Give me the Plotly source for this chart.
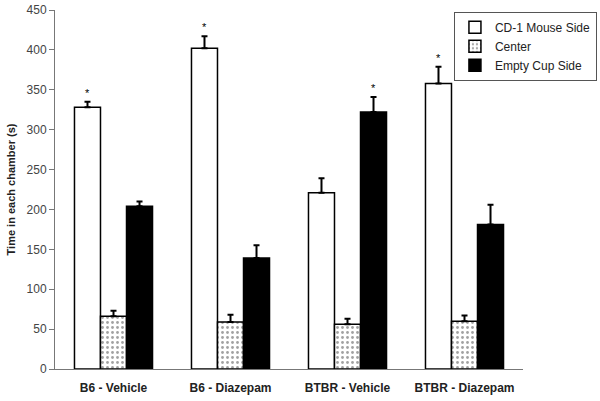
import plotly.graph_objects as go

categories = ["B6 - Vehicle", "B6 - Diazepam", "BTBR - Vehicle", "BTBR - Diazepam"]
series_names = ["CD-1 Mouse Side", "Center", "Empty Cup Side"]
cd1_side = [328, 402, 221, 358]
cd1_err = [7, 15, 18, 21]
center = [66, 59, 56, 60]
center_err = [7, 9, 7, 7]
empty_side = [204, 139, 322, 181]
empty_err = [6, 16, 19, 25]
# significance markers: (series index, category index)
stars = [(0, 0), (0, 1), (2, 2), (0, 3)]

values = [cd1_side, center, empty_side]
errors = [cd1_err, center_err, empty_err]

fig = go.Figure()
styles = [
    dict(color="white", pattern=None),
    dict(color="white", pattern=dict(shape=".", fgcolor="#444", bgcolor="white", size=5, solidity=0.25)),
    dict(color="black", pattern=None),
]
for name, vals, errs, st in zip(series_names, values, errors, styles):
    marker = dict(color=st["color"], line=dict(color="black", width=1.5))
    if st["pattern"]:
        marker["pattern"] = st["pattern"]
    fig.add_trace(go.Bar(
        name=name, x=categories, y=vals,
        marker=marker,
        error_y=dict(type="data", array=errs, arrayminus=[0] * len(errs), symmetric=False,
                     color="black", thickness=2, width=3),
    ))

shifts = [-26, 0, 26]
for si, ci in stars:
    fig.add_annotation(x=categories[ci], y=values[si][ci] + errors[si][ci], text="*",
                       showarrow=False, xshift=shifts[si], yshift=9,
                       font=dict(family="Arial, Liberation Sans", size=11, color="black"))

fig.update_layout(
    width=600, height=401,
    margin=dict(l=55, r=77, t=10, b=32, autoexpand=False),
    paper_bgcolor="white", plot_bgcolor="white",
    barmode="group", bargap=0.333, bargroupgap=0,
    font=dict(family="Arial, Liberation Sans, sans-serif", color="#333"),
    showlegend=True,
    legend=dict(x=1.158, y=0.995, xanchor="right", yanchor="top",
                bordercolor="#555", borderwidth=1, bgcolor="white",
                font=dict(size=12, color="#222"), itemwidth=30, tracegroupgap=0),
)
fig.update_xaxes(showline=True, linecolor="#777", linewidth=1, ticks="", automargin=False,
                 ticklabelstandoff=8,
                 tickfont=dict(size=12, color="#222", family="Arial Black, Liberation Sans"),
                 tickprefix="<b>", ticksuffix="</b>", showgrid=False)
fig.update_yaxes(range=[0, 450], dtick=50, showline=True, linecolor="#777", linewidth=1,
                 ticks="outside", ticklen=5, tickcolor="#777", showgrid=False, zeroline=False,
                 automargin=False,
                 tickfont=dict(size=12, color="#444"),
                 title=dict(text="<b>Time in each chamber (s)</b>", font=dict(size=11, color="#222"),
                            standoff=8))

# remove the browser's default 8px body margin so the figure sits at the page origin
fig.write_html("out.html", config={"displayModeBar": False},
               post_script="document.body.style.margin='0';")
